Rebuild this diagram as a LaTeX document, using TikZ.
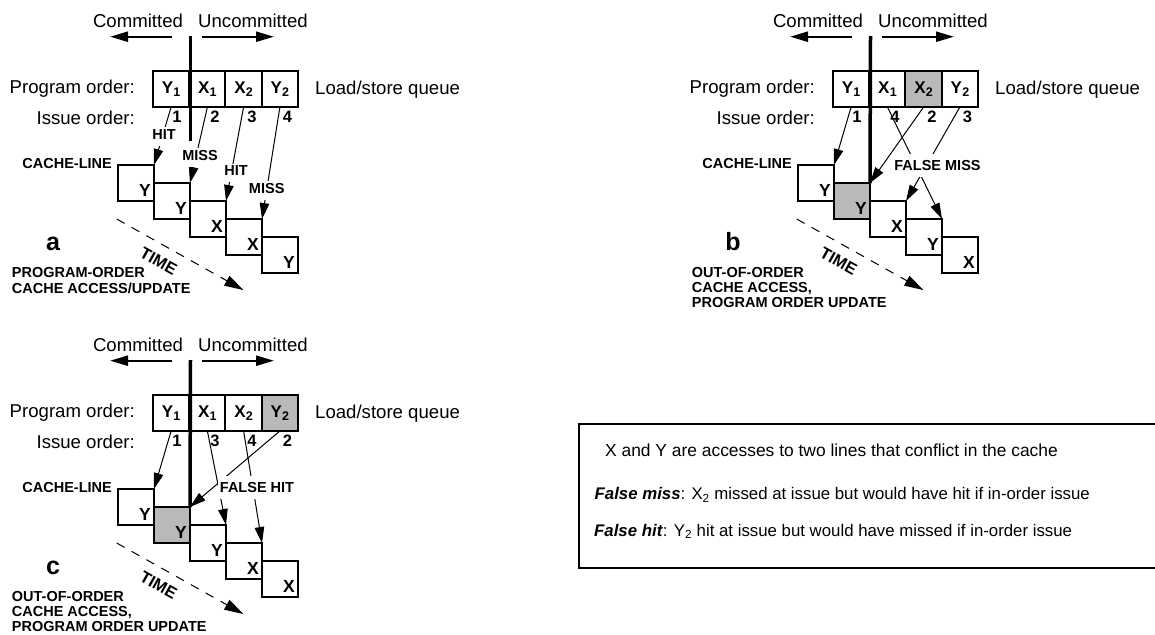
\documentclass[tikz,border=0pt]{standalone}
\usepackage{fontspec}
\setmainfont{Liberation Sans}
\usetikzlibrary{arrows.meta}
\definecolor{cellgray}{RGB}{185,185,185}
\newcommand\qsub[2]{#1\kern0.3pt\raisebox{-3.5pt}{\fontsize{12.5}{12.5}\selectfont #2}}

\tikzset{
  toptext/.style={font=\fontsize{18.6}{22}\selectfont, inner sep=0pt},
  legtext/.style={font=\fontsize{17.4}{20}\selectfont, inner sep=0pt},
  legtextb/.style={font=\fontsize{16.8}{20}\selectfont, inner sep=0pt},
  boldlbl/.style={font=\bfseries\fontsize{14.5}{16}\selectfont, inner sep=0pt},
  capt/.style={font=\bfseries\fontsize{14.5}{16}\selectfont, inner sep=0pt, anchor=base west},
  panelletter/.style={font=\bfseries\fontsize{25}{27}\selectfont, inner sep=0pt, anchor=base},
  timelbl/.style={font=\bfseries\fontsize{16.5}{18}\selectfont, inner sep=0pt, rotate=-29.3},
  qcell/.style={draw, line width=2pt, minimum width=36.25pt, minimum height=36pt,
    inner sep=0pt, outer sep=0pt, text height=12pt, text depth=4pt,
    font=\bfseries\fontsize{17}{18}\selectfont},
  cbox/.style={draw, line width=2pt, minimum width=36pt, minimum height=36pt,
    inner sep=0pt, outer sep=0pt},
  cboxlbl/.style={font=\bfseries\fontsize{17.5}{18}\selectfont, inner sep=0pt, anchor=base east},
  inum/.style={font=\bfseries\fontsize{16.5}{18}\selectfont, inner sep=0pt, anchor=base},
  bigarrow/.style={line width=2.3pt, -{Triangle[length=18pt,width=10pt]}},
  divider/.style={line width=3.5pt},
  conn/.style={line width=1pt, -{Triangle[length=16pt,width=9.5pt]}},
  timearrow/.style={line width=1pt, dash pattern=on 9pt off 8pt, -{Triangle[length=19pt,width=11pt]}},
  hmlbl/.style={fill=white, font=\bfseries\fontsize{14.5}{15}\selectfont, inner xsep=1pt,
    inner ysep=1.5pt, text height=10.5pt, text depth=5pt, anchor=base},
  falselbl/.style={fill=white, font=\bfseries\fontsize{14.5}{15}\selectfont, inner xsep=2pt,
    inner ysep=6pt, text height=10.5pt, text depth=0.5pt, anchor=base},
  legendbox/.style={line width=2pt},
}

\newcommand\panelframe[1]{%
  \node[toptext, anchor=base] (#1-com) at (138,27.3) {Committed};
  \node[toptext, anchor=base] (#1-unc) at (253,27.3) {Uncommitted};
  \coordinate (#1-cl0) at (172,36.7); \coordinate (#1-cl1) at (110,36.7);
  \coordinate (#1-cr0) at (202,36.7); \coordinate (#1-cr1) at (274,36.7);
  \draw[bigarrow] (#1-cl0) -- (#1-cl1);
  \draw[bigarrow] (#1-cr0) -- (#1-cr1);
  \node[toptext, anchor=base east] (#1-po) at (135,93.5) {Program order:};
  \node[toptext, anchor=base east] (#1-io) at (135,124) {Issue order:};
  \node[toptext, anchor=base west] (#1-lsq) at (315,94) {Load/store queue};
  \node[boldlbl, anchor=base east] (#1-cline) at (112,168) {CACHE-LINE};
  \coordinate (#1-t0) at (116.7,219); \coordinate (#1-t1) at (243.3,290);
  \draw[timearrow] (#1-t0) -- (#1-t1);
  \node[timelbl] (#1-time) at (158.5,261.5) {TIME};
}
\newcommand\qcells[5]{%
  \node[qcell, fill=#2] (#1-q1) at (171.1,89) {\qsub{Y}{1}};
  \node[qcell, fill=#3] (#1-q2) at (207.4,89) {\qsub{X}{1}};
  \node[qcell, fill=#4] (#1-q3) at (243.6,89) {\qsub{X}{2}};
  \node[qcell, fill=#5] (#1-q4) at (279.9,89) {\qsub{Y}{2}};
}
\newcommand\cboxes[7]{%
  \node[cbox, fill=white] (#1-b0) at (136,183) {};
  \node[cbox, fill=#7] (#1-b1) at (172,201) {};
  \node[cbox, fill=white] (#1-b2) at (208,219) {};
  \node[cbox, fill=white] (#1-b3) at (244,237) {};
  \node[cbox, fill=white] (#1-b4) at (280,255) {};
  \node[cboxlbl] (#1-l0) at ([shift={(-3,-5)}]#1-b0.south east) {#2};
  \node[cboxlbl] (#1-l1) at ([shift={(-3,-5)}]#1-b1.south east) {#3};
  \node[cboxlbl] (#1-l2) at ([shift={(-3,-5)}]#1-b2.south east) {#4};
  \node[cboxlbl] (#1-l3) at ([shift={(-3,-5)}]#1-b3.south east) {#5};
  \node[cboxlbl] (#1-l4) at ([shift={(-3,-5)}]#1-b4.south east) {#6};
}
\newcommand\inums[5]{%
  \node[inum] (#1-n1) at (177,122.5) {#2};
  \node[inum] (#1-n2) at (215,122.5) {#3};
  \node[inum] (#1-n3) at (252,122.5) {#4};
  \node[inum] (#1-n4) at (287.5,122.5) {#5};
}

\begin{document}
\begin{tikzpicture}[x=1pt,y=-1pt]
\useasboundingbox (0,0) rectangle (1155,634);

% ---------- panel a ----------
\panelframe{a}
\qcells{a}{white}{white}{white}{white}
\cboxes{a}{Y}{Y}{X}{X}{Y}{white}
\inums{a}{1}{2}{3}{4}
\coordinate (a-v0) at (190.5,36);
\coordinate (a-v1) at (190.5,140.5);
\draw[divider] (a-v0) -- (a-v1);
\draw[conn] (a-q1.south) -- (a-b0.north east);
\draw[conn] (a-q2.south) -- (a-b1.north east);
\draw[conn] (a-q3.south) -- (a-b2.north east);
\draw[conn] (a-q4.south) -- (a-b3.north east);
\node[hmlbl] (a-h1) at (164,139) {HIT};
\node[hmlbl] (a-h2) at (200,160) {MISS};
\node[hmlbl] (a-h3) at (236,175.7) {HIT};
\node[hmlbl] (a-h4) at (266.7,193) {MISS};
\node[panelletter] (a-let) at (53,250) {a};
\node[capt] (a-c1) at (11.7,277.3) {PROGRAM-ORDER};
\node[capt] (a-c2) at (11.7,293) {CACHE ACCESS/UPDATE};

% ---------- panel b ----------
\begin{scope}[shift={(680,0)}]
\panelframe{b}
\qcells{b}{white}{white}{cellgray}{white}
\cboxes{b}{Y}{Y}{X}{Y}{X}{cellgray}
\inums{b}{1}{4}{2}{3}
\coordinate (b-v0) at (190.5,36);
\draw[divider] (b-v0) -- (b-b1.north east);
\draw[conn] (b-q1.south) -- (b-b0.north east);
\draw[conn] (b-q3.south) -- (b-b1.north east);
\draw[conn] (b-q4.south) -- (b-b2.north east);
\draw[conn] (b-q2.south) -- (b-b3.north east);
\node[falselbl] (b-fm) at (257.5,170) {FALSE MISS};
\node[panelletter] (b-let) at (53,250) {b};
\node[capt] (b-c1) at (11.7,277.3) {OUT-OF-ORDER};
\node[capt] (b-c2) at (11.7,292.3) {CACHE ACCESS,};
\node[capt] (b-c3) at (11.7,307.3) {PROGRAM ORDER UPDATE};
\end{scope}

% ---------- panel c ----------
\begin{scope}[shift={(0,324)}]
\panelframe{c}
\qcells{c}{white}{white}{white}{cellgray}
\cboxes{c}{Y}{Y}{Y}{X}{X}{cellgray}
\inums{c}{1}{3}{4}{2}
\coordinate (c-v0) at (190.5,36);
\draw[divider] (c-v0) -- (c-b1.north east);
\draw[conn] (c-q1.south) -- (c-b0.north east);
\draw[conn] (c-q4.south) -- (c-b1.north east);
\draw[conn] (c-q2.south) -- (c-b2.north east);
\draw[conn] (c-q3.south) -- (c-b3.north east);
\node[falselbl] (c-fh) at (257,168.5) {FALSE HIT};
\node[panelletter] (c-let) at (53,250) {c};
\node[capt] (c-c1) at (11.7,277.3) {OUT-OF-ORDER};
\node[capt] (c-c2) at (11.7,292.3) {CACHE ACCESS,};
\node[capt] (c-c3) at (11.7,307.3) {PROGRAM ORDER UPDATE};
\end{scope}

% ---------- legend ----------
\coordinate (lg0) at (1157,423.5);
\coordinate (lg1) at (579,423.5);
\coordinate (lg2) at (579,568);
\coordinate (lg3) at (1157,568);
\draw[legendbox] (lg0) -- (lg1) -- (lg2) -- (lg3);
\node[legtext, anchor=base] (leg1) at (831.5,456) {X and Y are accesses to two lines that conflict in the cache};
\node[legtextb, anchor=base west] (leg2) at (594.5,499.5) {\textbf{\textit{False miss}}: X\textsubscript{2} missed at issue but would have hit if in-order issue};
\node[legtextb, anchor=base west] (leg3) at (594,536) {\textbf{\textit{False hit}}: Y\textsubscript{2} hit at issue but would have missed if in-order issue};
\end{tikzpicture}
\end{document}
